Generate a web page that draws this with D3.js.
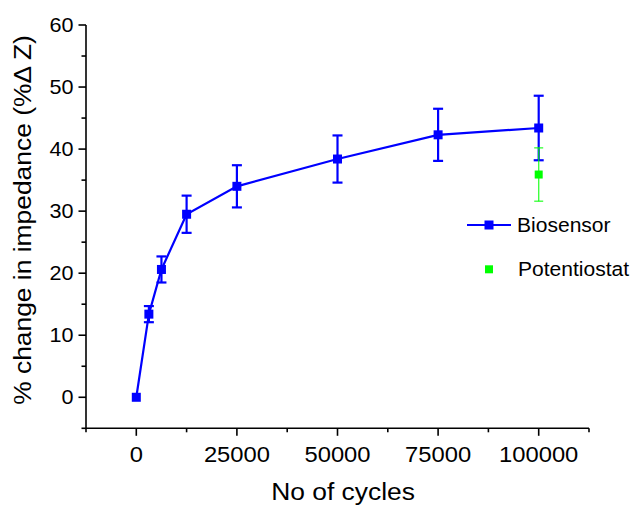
<!DOCTYPE html>
<html>
<head>
<meta charset="utf-8">
<script src="https://cdn.jsdelivr.net/npm/d3@7/dist/d3.min.js"></script>
<style>
html,body{margin:0;padding:0;background:#fff;}
svg{display:block;font-family:"Liberation Sans",Arial,sans-serif;}
</style>
</head>
<body>
<svg id="chart" width="631" height="505"></svg>
<script>
// Data
const cycles = [0, 3125, 6250, 12500, 25000, 50000, 75000, 100000];
const biosensor = [0, 13.4, 20.6, 29.5, 34.0, 38.4, 42.3, 43.4];
const biosensorErr = [0, 1.3, 2.1, 3.0, 3.4, 3.8, 4.2, 5.2];
const potentiostatX = [100000];
const potentiostat = [35.9];
const potentiostatErr = [4.3];
const xTicks = [0, 25000, 50000, 75000, 100000];
const yTicks = [0, 10, 20, 30, 40, 50, 60];
const seriesNames = ["Biosensor", "Potentiostat"];

const svg = d3.select("#chart");
const x = d3.scaleLinear().domain([-12500, 112500]).range([86, 589]);
const y = d3.scaleLinear().domain([-5, 60]).range([428.3, 25]);
const blue = "#0000ff", green = "#00ff00";

// Axes
const xAxis = svg.append("g").attr("transform", `translate(0,${y(-5)})`);
xAxis.append("line").attr("x1", x(-12500)).attr("x2", x(112500)).attr("stroke", "#000").attr("stroke-width", 1.6);
const xMinor = d3.range(-12500, 112501, 25000);
xAxis.selectAll(".xminor").data(xMinor).enter().append("line")
  .attr("x1", d => x(d)).attr("x2", d => x(d)).attr("y1", 0).attr("y2", 4)
  .attr("stroke", "#000").attr("stroke-width", 1.6);
xAxis.selectAll(".xmajor").data(xTicks).enter().append("line")
  .attr("x1", d => x(d)).attr("x2", d => x(d)).attr("y1", 0).attr("y2", 7.5)
  .attr("stroke", "#000").attr("stroke-width", 1.6);
xAxis.selectAll(".xlab").data(xTicks).enter().append("text")
  .attr("transform", d => `translate(${x(d)},34) scale(1.08,1)`)
  .attr("text-anchor", "middle").attr("font-size", 22).attr("fill", "#000")
  .text(d => d);

const yAxis = svg.append("g").attr("transform", `translate(${x(-12500)},0)`);
yAxis.append("line").attr("y1", y(-5)).attr("y2", y(60)).attr("stroke", "#000").attr("stroke-width", 1.6);
const yMinor = d3.range(-5, 60, 10);
yAxis.selectAll(".yminor").data(yMinor).enter().append("line")
  .attr("y1", d => y(d)).attr("y2", d => y(d)).attr("x1", 0).attr("x2", -4.5)
  .attr("stroke", "#000").attr("stroke-width", 1.6);
yAxis.selectAll(".ymajor").data(yTicks).enter().append("line")
  .attr("y1", d => y(d)).attr("y2", d => y(d)).attr("x1", 0).attr("x2", -7.5)
  .attr("stroke", "#000").attr("stroke-width", 1.6);
yAxis.selectAll(".ylab").data(yTicks).enter().append("text")
  .attr("transform", d => `translate(-12.5,${y(d) + 7}) scale(1.08,1)`)
  .attr("text-anchor", "end").attr("font-size", 20).attr("fill", "#000")
  .text(d => d);

// Axis titles
svg.append("text").attr("transform", "translate(343,500) scale(1.1,1)")
  .attr("text-anchor", "middle").attr("font-size", 24).attr("fill", "#000")
  .text("No of cycles");
svg.append("text").attr("transform", "translate(31,220) rotate(-90) scale(1.1,1)")
  .attr("text-anchor", "middle").attr("font-size", 24).attr("fill", "#000")
  .text("% change in impedance (%\u0394 Z)");

// Biosensor series
const bData = cycles.map((c, i) => ({x: c, y: biosensor[i], e: biosensorErr[i]}));
const line = d3.line().x(d => x(d.x)).y(d => y(d.y));
svg.append("path").datum(bData).attr("d", line).attr("fill", "none")
  .attr("stroke", blue).attr("stroke-width", 2.2);
const eb = svg.append("g").attr("stroke", blue).attr("stroke-width", 2.2);
bData.filter(d => d.e > 0).forEach(d => {
  eb.append("line").attr("x1", x(d.x)).attr("x2", x(d.x)).attr("y1", y(d.y + d.e)).attr("y2", y(d.y - d.e));
  eb.append("line").attr("x1", x(d.x) - 5).attr("x2", x(d.x) + 5).attr("y1", y(d.y + d.e)).attr("y2", y(d.y + d.e));
  eb.append("line").attr("x1", x(d.x) - 5).attr("x2", x(d.x) + 5).attr("y1", y(d.y - d.e)).attr("y2", y(d.y - d.e));
});
svg.selectAll(".bpt").data(bData).enter().append("rect")
  .attr("x", d => x(d.x) - 4.5).attr("y", d => y(d.y) - 4.5)
  .attr("width", 9).attr("height", 9).attr("fill", blue);

// Potentiostat series
const pData = potentiostatX.map((c, i) => ({x: c, y: potentiostat[i], e: potentiostatErr[i]}));
const pb = svg.append("g").attr("stroke", green).attr("stroke-width", 1.4).attr("stroke-opacity", 0.75);
pData.forEach(d => {
  pb.append("line").attr("x1", x(d.x)).attr("x2", x(d.x)).attr("y1", y(d.y + d.e)).attr("y2", y(d.y - d.e));
  pb.append("line").attr("x1", x(d.x) - 4.5).attr("x2", x(d.x) + 4.5).attr("y1", y(d.y + d.e)).attr("y2", y(d.y + d.e));
  pb.append("line").attr("x1", x(d.x) - 4.5).attr("x2", x(d.x) + 4.5).attr("y1", y(d.y - d.e)).attr("y2", y(d.y - d.e));
});
svg.selectAll(".ppt").data(pData).enter().append("rect")
  .attr("x", d => x(d.x) - 4).attr("y", d => y(d.y) - 4)
  .attr("width", 8).attr("height", 8).attr("fill", green);

// Legend
const lg = svg.append("g");
lg.append("line").attr("x1", 467).attr("x2", 511).attr("y1", 225).attr("y2", 225)
  .attr("stroke", blue).attr("stroke-width", 2.2);
lg.append("rect").attr("x", 484.5).attr("y", 220.5).attr("width", 9).attr("height", 9).attr("fill", blue);
lg.append("rect").attr("x", 485).attr("y", 265.3).attr("width", 8).attr("height", 8).attr("fill", green);
lg.append("text").attr("transform", "translate(517,232) scale(1.08,1)")
  .attr("font-size", 19.5).attr("fill", "#000").text(seriesNames[0]);
lg.append("text").attr("transform", "translate(518,276) scale(1.08,1)")
  .attr("font-size", 19.5).attr("fill", "#000").text(seriesNames[1]);
</script>
</body>
</html>
